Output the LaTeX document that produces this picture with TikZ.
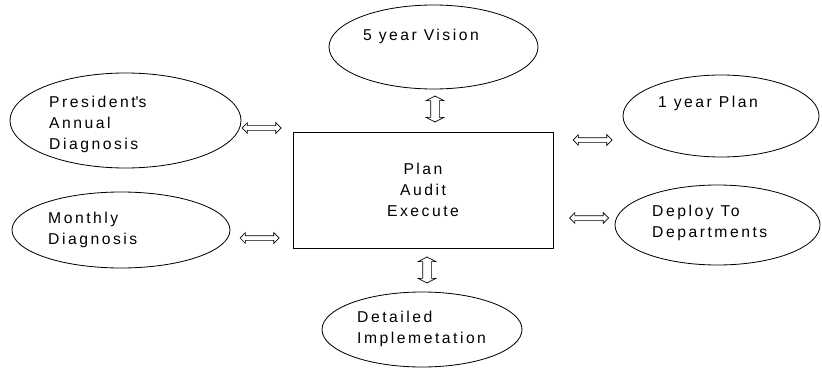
\documentclass[tikz,border=0pt]{standalone}
\usepackage{fontspec}
\setmainfont{Liberation Sans}[LetterSpace=16]
\usetikzlibrary{shapes.geometric,shapes.arrows}

\tikzset{
  boble/.style={draw, ellipse, line width=0.7pt, inner sep=0pt},
  tekst/.style={anchor=north west, align=left, inner sep=0pt,
    font=\fontsize{13.4}{17.9}\selectfont},
  pilh/.style={draw, double arrow, line width=0.6pt, inner xsep=0pt, inner ysep=0.06cm,
    minimum height=1.17cm, minimum width=0.3cm, double arrow head extend=0.09cm},
  pilv/.style={draw, double arrow, rotate=90, line width=0.6pt, inner xsep=0pt, inner ysep=0.12cm,
    minimum height=0.78cm, minimum width=0.51cm, double arrow head extend=0.135cm,
    double arrow tip angle=125}
}

\begin{document}
\begin{tikzpicture}[x=0.03cm, y=-0.03cm]
  \useasboundingbox (0,0) rectangle (822,369);

  % Boksen i midten
  \node[draw, line width=0.7pt, minimum width=7.8cm, minimum height=3.48cm,
    align=center, font=\fontsize{13.4}{17.9}\selectfont] (kjerne) at (423,190)
    {Plan\\Audit\\Execute};

  % 5 year Vision
  \node[boble, minimum width=6.27cm, minimum height=2.52cm] (visjon) at (433.5,47) {};
  \node[tekst] (visjontxt) at (363,29) {5 year Vision};

  % President's Annual Diagnosis
  \node[boble, minimum width=6.93cm, minimum height=2.85cm] (president) at (125.5,120.5) {};
  \node[tekst] (presidenttxt) at (49,96) {President\textquotesingle s\\Annual\\Diagnosis};

  % 1 year Plan
  \node[boble, minimum width=5.88cm, minimum height=2.46cm] (aarsplan) at (721,116) {};
  \node[tekst] (aarsplantxt) at (658,96) {1 year Plan};

  % Monthly Diagnosis
  \node[boble, minimum width=6.54cm, minimum height=2.28cm] (maaned) at (121,230) {};
  \node[tekst] (maanedtxt) at (48,212) {Monthly\\Diagnosis};

  % Deploy To Departments
  \node[boble, minimum width=6.15cm, minimum height=2.4cm] (utrulling) at (717.5,225) {};
  \node[tekst] (utrullingtxt) at (652,205) {Deploy To\\Departments};

  % Detailed Implemetation
  \node[boble, minimum width=6cm, minimum height=2.25cm] (detaljer) at (422,329.5) {};
  \node[tekst] (detaljertxt) at (357,311) {Detailed\\Implemetation};

  % Pilene
  \node[pilh] (p1) at (261.5,128) {};
  \node[pilh] (p2) at (592.5,140) {};
  \node[pilh] (p3) at (259.5,238) {};
  \node[pilh] (p4) at (589,218) {};
  \node[pilv] (p5) at (435,109) {};
  \node[pilv] (p6) at (427,270) {};

\end{tikzpicture}
\end{document}
